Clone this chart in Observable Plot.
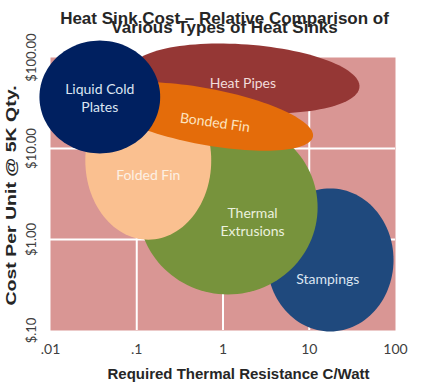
<!DOCTYPE html>
<html><head><meta charset="utf-8">
<script src="https://cdn.jsdelivr.net/npm/d3@7"></script>
<script src="https://cdn.jsdelivr.net/npm/@observablehq/plot@0.6"></script>
<style>
body{margin:0;background:#fff;}
#wrap{position:relative;width:437px;height:388px;overflow:hidden;}
#chart{position:absolute;left:0;top:0;}
.t{position:absolute;font-family:"Liberation Sans",Arial,sans-serif;font-weight:bold;color:#262626;white-space:nowrap;text-align:center;}
</style></head><body>
<div id="wrap">
<div id="chart"></div>
<div class="t" style="left:6px;top:9.6px;width:437px;font-size:17px;line-height:17px;">Heat Sink Cost – Relative Comparison of</div>
<div class="t" style="left:6px;top:18.6px;width:437px;font-size:17px;line-height:17px;">Various Types of Heat Sinks</div>
<div class="t" style="left:-140px;top:187.5px;width:300px;font-size:15px;line-height:15px;transform:rotate(-90deg) scaleX(1.3);">Cost Per Unit @ 5K Qty.</div>
<div class="t" style="left:20px;top:366.3px;width:437px;font-size:15px;line-height:15px;">Required Thermal Resistance C/Watt</div>
</div>
<script>
// Heat sink types (drawing order, back to front)
const shapeNames = ["Stampings", "Thermal Extrusions", "Folded Fin", "Heat Pipes", "Bonded Fin", "Liquid Cold Plates"];
// centre of each range: thermal resistance (C/W) and cost ($)
const centerX = [17.5, 1.14, 0.136, 1.80, 0.62, 0.0373];
const centerY = [0.596, 2.25, 7.38, 58.8, 22.5, 36.8];
// half-extent of each range, in decades
const spanX = [0.734, 1.04, 0.73, 1.33, 1.27, 0.70];
const spanY = [0.786, 0.956, 0.87, 0.374, 0.31, 0.62];
// tilt of each range (degrees, clockwise)
const tilt = [0, 0, 0, 4, 10, 0];
const shapeColors = ["#1f497d", "#77933c", "#fac090", "#953735", "#e46c0a", "#002060"];

// labels
const labelText = ["Stampings", "Thermal\nExtrusions", "Folded Fin", "Heat Pipes", "Bonded Fin", "Liquid Cold\nPlates"];
const labelX = [16.4, 2.2, 0.136, 1.70, 0.81, 0.0373];
const labelY = [0.372, 1.58, 5.2, 53, 19.8, 36.8];
const labelRotate = [0, 0, 0, 0, 8, 0];
const labelColors = ["#dbe5f1", "#ebf1de", "#fdf0e4", "#f2dcdb", "#fde4c0", "#dce6f2"];

// axes
const xTicks = [0.01, 0.1, 1, 10, 100];
const xTickLabels = [".01", ".1", "1", "10", "100"];
const yTicks = [0.1, 1, 10, 100];
const yTickLabels = ["$.10", "$1.00", "$10.00", "$100.00"];
const xGrid = [0.1, 1, 10];
const yGrid = [1, 10];

const N = 120;
const shapes = shapeNames.map((name, i) => {
  const a = -tilt[i] * Math.PI / 180;
  const lx0 = Math.log10(centerX[i]), ly0 = Math.log10(centerY[i]);
  const pts = [];
  for (let k = 0; k <= N; k++) {
    const t = 2 * Math.PI * k / N;
    const u = spanX[i] * Math.cos(t), v = spanY[i] * Math.sin(t);
    pts.push({x: Math.pow(10, lx0 + u * Math.cos(a) - v * Math.sin(a)),
              y: Math.pow(10, ly0 + u * Math.sin(a) + v * Math.cos(a))});
  }
  return pts;
});
const labels = labelText.map((t, i) => ({text: t, x: labelX[i], y: labelY[i], r: labelRotate[i], c: labelColors[i]}));
const xFmt = new Map(xTicks.map((d, i) => [d, xTickLabels[i]]));
const yFmt = new Map(yTicks.map((d, i) => [d, yTickLabels[i]]));

const chart = Plot.plot({
  width: 437, height: 388,
  marginLeft: 50, marginRight: 42, marginTop: 57, marginBottom: 58,
  style: {background: "transparent", fontFamily: "Lato, sans-serif"},
  x: {type: "log", domain: [0.01, 100], label: null},
  y: {type: "log", domain: [0.1, 100], label: null},
  color: {type: "identity"},
  marks: [
    Plot.frame({fill: "#d99694", stroke: null}),
    Plot.gridX(xGrid, {stroke: "white", strokeOpacity: 1, strokeWidth: 2}),
    Plot.gridY(yGrid, {stroke: "white", strokeOpacity: 1, strokeWidth: 2}),
    ...shapes.map((pts, i) => Plot.line(pts, {x: "x", y: "y", fill: shapeColors[i], stroke: "none", curve: "linear"})),
    Plot.text(labels, {x: "x", y: "y", text: "text", fill: "c", rotate: "r", fontSize: 14, lineHeight: 1.3, fontFamily: "Lato, sans-serif"}),
    Plot.axisX(xTicks, {tickSize: 0, tickPadding: 14, tickFormat: d => xFmt.get(d), fontSize: 14, color: "#404040", label: null}),
    Plot.axisY(yTicks, {tickSize: 0, tickPadding: 15, tickRotate: -90, tickFormat: d => yFmt.get(d), fontSize: 13, color: "#404040", label: null})
  ]
});
document.getElementById("chart").appendChild(chart);
</script>
</body></html>
